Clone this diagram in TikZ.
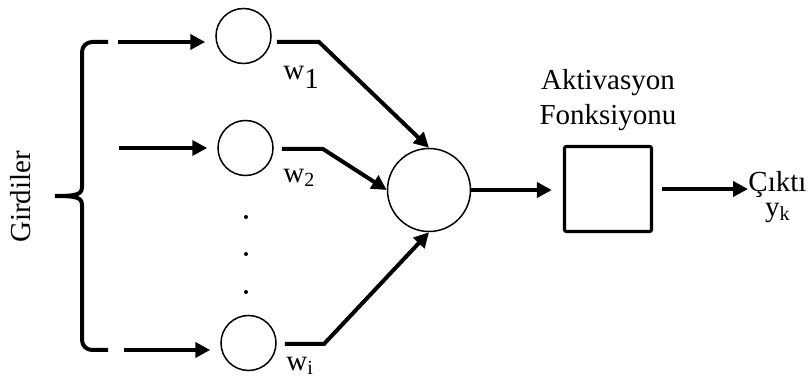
\documentclass[tikz,border=0pt]{standalone}
\usepackage{fontspec}
\setmainfont{Liberation Serif}
\usetikzlibrary{arrows.meta,positioning}
\newcommand{\Idx}[1]{\raisebox{-0.12em}{\fontsize{10}{12}\selectfont #1}}

\begin{document}
\begin{tikzpicture}[x=0.5pt, y=-0.5pt,
  font=\fontsize{14.5}{17.4}\selectfont,
  neuron/.style={draw, circle, line width=0.75pt, inner sep=0, minimum size=27.5pt},
  link/.style={line width=2pt, -{Triangle[length=7.5pt, width=7.5pt]}},
  brace/.style={line width=2pt}]
  \useasboundingbox (0,0) rectangle (809,379);

  \node[neuron] (in1) at (243.5,36) {};
  \node[neuron] (in2) at (245.5,148) {};
  \node[neuron] (ini) at (248.5,343) {};

  \node[neuron, minimum size=41.5pt] (sum) at (429,190) {};

  \node[draw, line width=1.6pt, rounded corners=1pt, inner sep=0,
    minimum width=43.5pt, minimum height=42.5pt]
    (act) at (608,189) {};

  \node[above=7pt of act, align=center, inner sep=0]
    (actlbl) {Aktivasyon\\Fonksiyonu};

  \node[anchor=base west, inner sep=0] (out) at (748,192) {Çıktı};
  \node[anchor=base, inner sep=0] (yk) at ([yshift=-12.5pt]out.base) {y\Idx{k}};

  \node[anchor=base west, inner sep=0] (w1) at (283,80) {w\raisebox{-0.28em}{1}};
  \node[anchor=base west, inner sep=0] (w2) at (283,183) {w\Idx{2}};
  \node[anchor=base west, inner sep=0] (wi) at (286,371) {w\Idx{i}};

  \node[rotate=90, inner sep=0] (inp) at (21,197) {Girdiler};

  % brace ends and arrow starts
  \coordinate (bt) at (108,42);
  \coordinate (bm) at (55,196);
  \coordinate (bb) at (108,350);
  \coordinate (a1) at (118,42);
  \coordinate (a2) at (119,148);
  \coordinate (ai) at (124,350);
  \coordinate (k1) at (319,42);
  \coordinate (k2) at (323,149);
  \coordinate (ki) at (324,344);

  \draw[brace] (bt) [rounded corners=5pt] -| (82,120) [sharp corners]
    -- (82,186) .. controls (82,194) and (79,196) .. (bm);
  \draw[brace] (bm) .. controls (79,196) and (82,198) .. (82,206)
    [rounded corners=5pt] |- (bb);

  \draw[link, shorten >=5pt] (a1) -- (a1 -| in1.west);
  \draw[link, shorten >=5pt] (a2) -- (a2 -| in2.west);
  \draw[link, shorten >=5pt] (ai) -- (ai -| ini.west);

  \draw[link, shorten <=2.5pt] (in1.east |- k1) -- (k1) -- (sum.north);
  \draw[link, shorten <=4pt] (in2.east |- k2) -- (k2) -- (sum.west);
  \draw[link, shorten <=4pt] (ini.east |- ki) -- (ki) -- (sum.south);

  \draw[link, shorten >=5.5pt] (sum.east) -- (sum.east -| act.west);
  \draw[link, shorten <=4.5pt] (act.east) -- (act.east -| out.west);

  \foreach \y in {217,254,292}
    \fill (246,\y) circle (1pt);
\end{tikzpicture}
\end{document}
